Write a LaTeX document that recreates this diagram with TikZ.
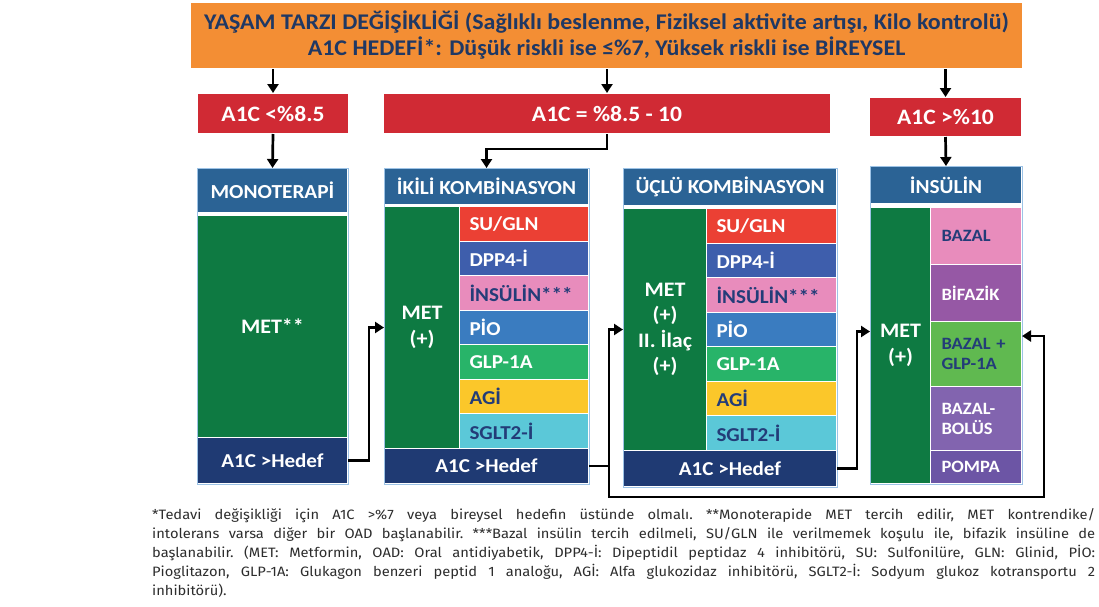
\documentclass[tikz,border=0pt]{standalone}
\usepackage{fontspec}
\setmainfont{Carlito}[FakeStretch=1.07]
\newfontfamily\notefont{Fira Sans}[FakeStretch=1.08]
\usetikzlibrary{arrows.meta,calc}
\definecolor{orangeC}{RGB}{243,142,52}
\definecolor{titleC}{RGB}{31,56,100}
\definecolor{redC}{RGB}{208,42,52}
\definecolor{headC}{RGB}{43,99,149}
\definecolor{greenC}{RGB}{14,122,66}
\definecolor{navyC}{RGB}{31,58,115}
\definecolor{suC}{RGB}{235,64,52}
\definecolor{dppC}{RGB}{62,94,172}
\definecolor{pinkC}{RGB}{232,140,188}
\definecolor{pioC}{RGB}{58,124,192}
\definecolor{glpC}{RGB}{40,180,105}
\definecolor{agiC}{RGB}{251,199,42}
\definecolor{sgltC}{RGB}{91,200,216}
\definecolor{bifC}{RGB}{150,88,165}
\definecolor{bglpC}{RGB}{96,185,80}
\definecolor{bolC}{RGB}{130,100,175}
\definecolor{pompaC}{RGB}{108,85,165}
\definecolor{dtextC}{RGB}{35,60,120}
\definecolor{edgeC}{RGB}{157,195,230}
\definecolor{noteC}{RGB}{45,45,45}
\tikzset{
  ccell/.style={draw=white, line width=1pt, anchor=north west, inner sep=0pt, align=center, text=white},
  lcell/.style={draw=white, line width=1pt, anchor=north west, inner ysep=0pt, inner xsep=10pt, align=left, text=white, font=\bfseries\fontsize{19.7}{22}\selectfont},
  icell/.style={lcell, inner xsep=11pt, text width=69pt, font=\bfseries\fontsize{17.3}{20}\selectfont, minimum height=#1pt},
  rowI/.style={lcell, text width=109pt, minimum height=34.57pt},
  rowU/.style={lcell, text width=110pt, minimum height=34.57pt},
  redbox/.style={ccell, fill=redC, font=\bfseries\fontsize{22}{26}\selectfont},
  headbox/.style={ccell, fill=headC, font=\bfseries\fontsize{19.9}{22}\selectfont},
  metbox/.style={ccell, fill=greenC, font=\bfseries\fontsize{20.6}{25.5}\selectfont},
  hedefbox/.style={ccell, fill=navyC, font=\bfseries\fontsize{19.7}{22}\selectfont},
  outline/.style={draw=edgeC, line width=0.8pt},
  arr/.style={draw=black, line width=2.7pt, -{Triangle[length=9pt,width=11pt]}}
}
\begin{document}
\begin{tikzpicture}[x=1pt,y=-1pt]
\useasboundingbox (0,0) rectangle (1099,606);
\fill[white] (0,0) rectangle (1099,606);

% top box
\node[ccell, fill=orangeC, text=titleC, minimum width=832pt, minimum height=66pt,
      font=\bfseries\fontsize{22.4}{26}\selectfont] (top) at (190,2)
  {YAŞAM TARZI DEĞİŞİKLİĞİ (Sağlıklı beslenme, Fiziksel aktivite artışı, Kilo kontrolü)\\
   A1C HEDEFİ*: Düşük riskli ise ≤\%7, Yüksek riskli ise BİREYSEL};

% red boxes
\node[redbox, minimum width=151pt, minimum height=40pt] (red1) at (197,93) {A1C <\%8.5};
\node[redbox, minimum width=447pt, minimum height=40pt] (red2) at (383,93) {A1C = \%8.5 - 10};
\node[redbox, minimum width=152pt, minimum height=39pt] (red3) at (869,97) {A1C >\%10};

% MONOTERAPI
\node[headbox, minimum width=150pt, minimum height=44pt] (monohead) at (197,168) {MONOTERAPİ};
\node[metbox, minimum width=150pt, minimum height=222pt] (monomet) at (197,215) {MET**};
\node[hedefbox, minimum width=150pt, minimum height=46pt] (monohedef) at (197,437) {A1C >Hedef};
\draw[outline] (monohead.north west) rectangle (monohedef.south east);

% IKILI
\node[headbox, minimum width=204pt, minimum height=36pt] (ikhead) at (384,168) {İKİLİ KOMBİNASYON};
\node[metbox, minimum width=75pt, minimum height=242pt] (ikmet) at (384,206) {MET\\(+)};
\node[rowI, fill=suC] (ik1) at (459,206) {SU/GLN};
\node[rowI, fill=dppC] (ik2) at (459,240.57) {DPP4-İ};
\node[rowI, fill=pinkC, text=dtextC] (ik3) at (459,275.14) {İNSÜLİN***};
\node[rowI, fill=pioC] (ik4) at (459,309.71) {PİO};
\node[rowI, fill=glpC] (ik5) at (459,344.29) {GLP-1A};
\node[rowI, fill=agiC, text=dtextC] (ik6) at (459,378.86) {AGİ};
\node[rowI, fill=sgltC, text=dtextC] (ik7) at (459,413.43) {SGLT2-İ};
\node[hedefbox, minimum width=204pt, minimum height=35pt] (ikhedef) at (384,448) {A1C >Hedef};
\draw[outline] (ikhead.north west) rectangle (ikhedef.south east);

% UCLU
\node[headbox, minimum width=213pt, minimum height=37pt] (uchead) at (623,168) {ÜÇLÜ KOMBİNASYON};
\node[metbox, minimum width=83pt, minimum height=242pt] (ucmet) at (623,208) {MET\\(+)\\II. İlaç\\(+)};
\node[rowU, fill=suC] (uc1) at (706,208) {SU/GLN};
\node[rowU, fill=dppC] (uc2) at (706,242.57) {DPP4-İ};
\node[rowU, fill=pinkC, text=dtextC] (uc3) at (706,277.14) {İNSÜLİN***};
\node[rowU, fill=pioC] (uc4) at (706,311.71) {PİO};
\node[rowU, fill=glpC] (uc5) at (706,346.29) {GLP-1A};
\node[rowU, fill=agiC, text=dtextC] (uc6) at (706,380.86) {AGİ};
\node[rowU, fill=sgltC, text=dtextC] (uc7) at (706,415.43) {SGLT2-İ};
\node[hedefbox, minimum width=213pt, minimum height=36pt] (uchedef) at (623,450) {A1C >Hedef};
\draw[outline] (uchead.north west) rectangle (uchedef.south east);

% INSULIN
\node[headbox, minimum width=151pt, minimum height=37pt] (inshead) at (870,166) {İNSÜLİN};
\node[metbox, minimum width=60pt, minimum height=276pt] (insmet) at (870,207) {MET\\(+)};
\node[icell=57, fill=pinkC, text=dtextC] (bazal) at (930,207) {BAZAL};
\node[icell=57, fill=bifC] (bif) at (930,264) {BİFAZİK};
\node[icell=65, fill=bglpC, text=dtextC] (bglp) at (930,321) {BAZAL +\\GLP-1A};
\node[icell=64, fill=bolC] (bol) at (930,386) {BAZAL-\\BOLÜS};
\node[icell=33, fill=pompaC] (pompa) at (930,450) {POMPA};
\draw[outline] (inshead.north west) rectangle (pompa.south east);

% connectors
\draw[arr] (top.south -| red1.north) -- (red1.north);
\draw[arr] (top.south -| red2.north) -- (red2.north);
\draw[arr] (top.south -| red3.north) -- (red3.north);
\draw[arr] (red1.south) -- (monohead.north);
\draw[arr] (red3.south) -- (inshead.north);
\draw[arr] (red2.south) -- ++(0,15) -| (ikhead.north);
\draw[arr] (monohedef.east) -- ++(21,0) |- (ikmet.west);
\coordinate (j) at ($(ikhedef.east)+(20,0)$);
\draw[arr] (ikhedef.east) -- (j) |- (ucmet.west);
\coordinate (lp) at (1044,497);
\draw[arr] (j) |- (lp) |- ([yshift=18pt]bglp.east);
\draw[arr] (uchedef.east) -- ++(20,0) |- ([yshift=14pt]insmet.west);

% footnote
\node[anchor=north west, inner sep=0pt, text width=943pt, align=justify,
      font=\notefont\fontsize{13.6}{19}\selectfont\frenchspacing, text=noteC] (note) at (152,508)
  {*Tedavi değişikliği için A1C >\%7 veya bireysel hedefin üstünde olmalı. **Monoterapide MET tercih edilir, MET kontrendike/\linebreak
   intolerans varsa diğer bir OAD başlanabilir. ***Bazal insülin tercih edilmeli, SU/GLN ile verilmemek koşulu ile, bifazik insüline de\linebreak
   başlanabilir. (MET: Metformin, OAD: Oral antidiyabetik, DPP4-İ: Dipeptidil peptidaz 4 inhibitörü, SU: Sulfonilüre, GLN: Glinid, PİO:\linebreak
   Pioglitazon, GLP-1A: Glukagon benzeri peptid 1 analoğu, AGİ: Alfa glukozidaz inhibitörü, SGLT2-İ: Sodyum glukoz kotransportu 2\linebreak
   inhibitörü).};
\end{tikzpicture}
\end{document}
